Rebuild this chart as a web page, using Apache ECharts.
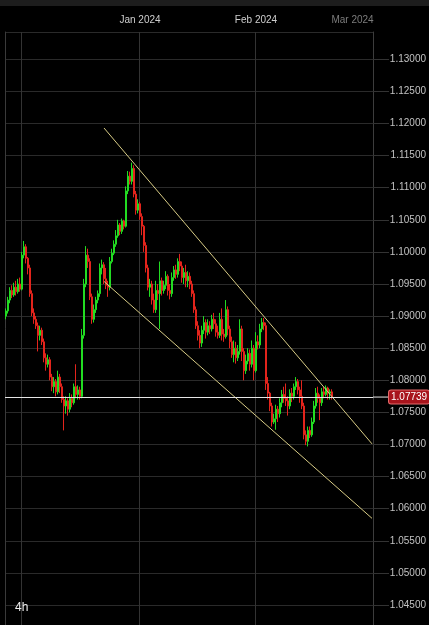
<!DOCTYPE html>
<html><head><meta charset="utf-8">
<script src="https://cdn.jsdelivr.net/npm/echarts@6/dist/echarts.min.js"></script>
<style>html,body{margin:0;padding:0;background:#000;}#c{width:429px;height:625px;}</style>
</head><body><div id="c"></div>
<script>
// EUR/USD 4h candles, open / close / low / high
const opens = [
1.0900,1.0908,1.0925,1.0940,1.0933,1.0945,1.0938,1.0950,1.0942,1.0995,
1.1008,1.0990,1.0975,1.0935,1.0905,1.0895,1.0885,1.0870,1.0878,1.0860,
1.0835,1.0825,1.0832,1.0805,1.0790,1.0798,1.0782,1.0805,1.0790,1.0770,
1.0760,1.0768,1.0755,1.0772,1.0765,1.0790,1.0778,1.0785,1.0775,1.0870,
1.0950,1.0995,1.0985,1.0930,1.0895,1.0910,1.0925,1.0935,1.0975,1.0980,
1.0958,1.0948,1.0945,1.0985,1.0998,1.1012,1.1025,1.1042,1.1032,1.1048,
1.1040,1.1095,1.1118,1.1110,1.1130,1.1090,1.1065,1.1075,1.1055,1.1040,
1.1010,1.0975,1.0945,1.0950,1.0925,1.0910,1.0940,1.0935,1.0955,1.0940,
1.0948,1.0962,1.0940,1.0935,1.0960,1.0972,1.0965,1.0985,1.0978,1.0960,
1.0968,1.0955,1.0962,1.0950,1.0935,1.0910,1.0885,1.0870,1.0858,1.0878,
1.0890,1.0875,1.0885,1.0880,1.0895,1.0888,1.0875,1.0870,1.0895,1.0872,
1.0868,1.0910,1.0880,1.0860,1.0840,1.0850,1.0835,1.0845,1.0880,1.0845,
1.0815,1.0830,1.0842,1.0825,1.0850,1.0815,1.0860,1.0855,1.0880,1.0890,
1.0885,1.0795,1.0780,1.0760,1.0735,1.0740,1.0755,1.0748,1.0765,1.0778,
1.0772,1.0768,1.0760,1.0780,1.0775,1.0790,1.0798,1.0785,1.0775,1.0760,
1.0715,1.0705,1.0722,1.0715,1.0735,1.0760,1.0780,1.0772,1.0765,1.0782,
1.0778,1.0788,1.0780,1.0782
];
const closes = [
1.0908,1.0925,1.0940,1.0933,1.0945,1.0938,1.0950,1.0942,1.0995,1.1008,
1.0990,1.0975,1.0935,1.0905,1.0895,1.0885,1.0870,1.0878,1.0860,1.0835,
1.0825,1.0832,1.0805,1.0790,1.0798,1.0782,1.0805,1.0790,1.0770,1.0760,
1.0768,1.0755,1.0772,1.0765,1.0790,1.0778,1.0785,1.0775,1.0870,1.0950,
1.0995,1.0985,1.0930,1.0895,1.0910,1.0925,1.0935,1.0975,1.0980,1.0958,
1.0948,1.0945,1.0985,1.0998,1.1012,1.1025,1.1042,1.1032,1.1048,1.1040,
1.1095,1.1118,1.1110,1.1130,1.1090,1.1065,1.1075,1.1055,1.1040,1.1010,
1.0975,1.0945,1.0950,1.0925,1.0910,1.0940,1.0935,1.0955,1.0940,1.0948,
1.0962,1.0940,1.0935,1.0960,1.0972,1.0965,1.0985,1.0978,1.0960,1.0968,
1.0955,1.0962,1.0950,1.0935,1.0910,1.0885,1.0870,1.0858,1.0878,1.0890,
1.0875,1.0885,1.0880,1.0895,1.0888,1.0875,1.0870,1.0895,1.0872,1.0868,
1.0910,1.0880,1.0860,1.0840,1.0850,1.0835,1.0845,1.0880,1.0845,1.0815,
1.0830,1.0842,1.0825,1.0850,1.0815,1.0860,1.0855,1.0880,1.0890,1.0885,
1.0795,1.0780,1.0760,1.0735,1.0740,1.0755,1.0748,1.0765,1.0778,1.0772,
1.0768,1.0760,1.0780,1.0775,1.0790,1.0798,1.0785,1.0775,1.0760,1.0715,
1.0705,1.0722,1.0715,1.0735,1.0760,1.0780,1.0772,1.0765,1.0782,1.0778,
1.0788,1.0780,1.0782,1.07739
];
const lows = [
1.0895,1.0904,1.0920,1.0928,1.0930,1.0932,1.0935,1.0938,1.0940,1.0990,
1.0982,1.0965,1.0930,1.0900,1.0888,1.0880,1.0845,1.0862,1.0855,1.0828,
1.0815,1.0820,1.0800,1.0783,1.0780,1.0775,1.0778,1.0780,1.0765,1.0722,
1.0748,1.0745,1.0750,1.0758,1.0762,1.0772,1.0770,1.0770,1.0772,1.0865,
1.0945,1.0975,1.0925,1.0888,1.0890,1.0905,1.0920,1.0930,1.0965,1.0950,
1.0942,1.0930,1.0940,1.0982,1.0995,1.1008,1.1022,1.1026,1.1028,1.1035,
1.1038,1.1090,1.1105,1.1105,1.1085,1.1058,1.1060,1.1050,1.1026,1.1000,
1.0968,1.0940,1.0930,1.0918,1.0905,1.0905,1.0925,1.0880,1.0932,1.0935,
1.0942,1.0932,1.0926,1.0930,1.0955,1.0958,1.0960,1.0970,1.0952,1.0950,
1.0945,1.0945,1.0942,1.0930,1.0905,1.0880,1.0862,1.0850,1.0852,1.0872,
1.0865,1.0870,1.0872,1.0876,1.0880,1.0868,1.0865,1.0866,1.0862,1.0860,
1.0865,1.0870,1.0850,1.0835,1.0828,1.0826,1.0830,1.0840,1.0830,1.0800,
1.0810,1.0825,1.0815,1.0820,1.0800,1.0812,1.0848,1.0850,1.0875,1.0878,
1.0785,1.0770,1.0752,1.0728,1.0732,1.0723,1.0735,1.0742,1.0758,1.0765,
1.0760,1.0745,1.0755,1.0766,1.0770,1.0785,1.0778,1.0765,1.0755,1.0708,
1.0699,1.0697,1.0710,1.0712,1.0732,1.0756,1.0765,1.0738,1.0760,1.0772,
1.0775,1.0770,1.0770,1.0770
];
const highs = [
1.0912,1.0930,1.0945,1.0948,1.0952,1.0955,1.0958,1.0960,1.1000,1.1017,
1.1012,1.0992,1.0980,1.0940,1.0912,1.0900,1.0890,1.0885,1.0882,1.0865,
1.0842,1.0840,1.0836,1.0810,1.0805,1.0802,1.0815,1.0810,1.0795,1.0775,
1.0775,1.0772,1.0780,1.0778,1.0795,1.0825,1.0792,1.0790,1.0880,1.0958,
1.1009,1.1005,1.0990,1.0935,1.0918,1.0930,1.0940,1.0982,1.0988,1.0984,
1.0975,1.0955,1.0992,1.1005,1.1018,1.1034,1.1050,1.1045,1.1052,1.1050,
1.1102,1.1126,1.1125,1.1139,1.1135,1.1095,1.1082,1.1078,1.1060,1.1042,
1.1015,1.0980,1.0958,1.0955,1.0935,1.0955,1.0950,1.0985,1.0960,1.0955,
1.0970,1.0965,1.0950,1.0968,1.0978,1.0980,1.0990,1.0997,1.0985,1.0975,
1.0980,1.0970,1.0968,1.0955,1.0940,1.0915,1.0892,1.0878,1.0885,1.0900,
1.0895,1.0895,1.0892,1.0902,1.0905,1.0895,1.0885,1.0905,1.0912,1.0880,
1.0925,1.0915,1.0885,1.0868,1.0862,1.0860,1.0855,1.0895,1.0885,1.0850,
1.0840,1.0850,1.0848,1.0862,1.0855,1.0875,1.0870,1.0888,1.0897,1.0897,
1.0890,1.0805,1.0782,1.0765,1.0748,1.0762,1.0760,1.0772,1.0785,1.0790,
1.0795,1.0775,1.0786,1.0788,1.0795,1.0805,1.0802,1.0790,1.0800,1.0765,
1.0722,1.0728,1.0728,1.0742,1.0768,1.0788,1.0790,1.0778,1.0788,1.0790,
1.0792,1.0790,1.0786,1.0786
];
const totalSlots = 184;                       // candle slots on the time axis (incl. future space)
const monthLabels = ['', 'Jan 2024', 'Feb 2024', 'Mar 2024'];
const monthSlots = [8, 67, 125, 184];         // slot where each month starts
const lastPrice = 1.07739;
const upperChannel = [[49, 1.1193], [183, 1.0701]];
const lowerChannel = [[49, 1.0954], [183, 1.0585]];
const yMin = 1.04, yMax = 1.134253, yStep = 0.005;

const categories = [];
for (let i = 0; i < totalSlots; i++) categories.push(String(i));
const candles = opens.map((o, i) => [o, closes[i], lows[i], highs[i]]);

function monthIndexAt(i) {
  for (let j = 0; j < monthSlots.length; j++) {
    const s = Math.min(monthSlots[j], totalSlots - 1);
    if (s === i) return j;
  }
  return -1;
}

const chart = echarts.init(document.getElementById('c'), null, {renderer: 'canvas'});
const FONT = '"Liberation Sans", Arial, sans-serif';
chart.setOption({
  backgroundColor: '#000',
  animation: false,
  textStyle: {fontFamily: FONT},
  title: {text: '4h', left: 10, bottom: 6,
    textStyle: {color: '#eeeeee', fontSize: 12, fontWeight: 'normal', fontFamily: FONT}},
  graphic: [{type: 'rect', left: 0, top: 0, shape: {width: 429, height: 6},
    style: {fill: '#1d1d1d'}, silent: true}],
  grid: {left: 5, width: 368, top: 32, height: 605.1, containLabel: false, outerBoundsMode: 'none'},
  xAxis: {
    type: 'category', position: 'top', data: categories, boundaryGap: true,
    axisLine: {show: false}, axisTick: {show: false},
    axisLabel: {
      interval: (i) => { const j = monthIndexAt(i); return j >= 0 && monthLabels[j] !== ''; },
      formatter: (v, i) => {
        const j = monthIndexAt(Number(v));
        if (j < 0) return '';
        return monthSlots[j] >= totalSlots ? '{f|' + monthLabels[j] + '}' : monthLabels[j];
      },
      color: '#cfcfcf', fontSize: 10, margin: 7, fontFamily: FONT,
      rich: {f: {color: '#7c7c7c', fontSize: 10, padding: [0, 39, 0, 0], fontFamily: FONT}}
    },
    splitLine: {show: true,
      interval: (i) => monthSlots.indexOf(i) >= 0,
      lineStyle: {color: '#333333', width: 1}}
  },
  yAxis: [{
    type: 'value', position: 'right', min: yMin, max: yMax, interval: yStep,
    axisLine: {show: true, lineStyle: {color: '#3c3c3c'}},
    axisTick: {show: true, length: 16, lineStyle: {color: '#333333'}},
    axisLabel: {formatter: (v) => v.toFixed(5), color: '#c2c2c2', fontSize: 10,
      align: 'right', margin: 53, showMaxLabel: false, showMinLabel: false, fontFamily: FONT},
    splitLine: {show: true, lineStyle: {color: '#2a2a2a', width: 1}}
  }, {
    type: 'value', position: 'left', min: yMin, max: yMax,
    axisLine: {show: true, lineStyle: {color: '#3a3a3a'}},
    axisTick: {show: false}, axisLabel: {show: false}, splitLine: {show: false}
  }],
  series: [{
    type: 'candlestick', data: candles, barWidth: '70%',
    itemStyle: {color: '#22dc22', color0: '#e3241c', borderColor: '#22dc22', borderColor0: '#e3241c', borderWidth: 1},
    markLine: {
      symbol: 'none', silent: true, animation: false, precision: 5,
      lineStyle: {color: '#e6e6e6', width: 1, type: 'solid'},
      label: {position: 'end', distance: 0,
        formatter: '{l|}{b|' + lastPrice.toFixed(5) + '}',
        rich: {
          l: {width: 16, height: 1, backgroundColor: '#e6e6e6', verticalAlign: 'middle'},
          b: {color: '#fff', fontSize: 10, fontFamily: FONT, backgroundColor: '#a8141c',
              borderColor: '#e36a6a', borderWidth: 1, borderRadius: 2, padding: [2, 2, 1, 2], verticalAlign: 'middle'}
        }},
      data: [{yAxis: lastPrice}]
    }
  }, {
    type: 'line', data: upperChannel, symbol: 'none', silent: true,
    lineStyle: {color: '#d8cc86', width: 1}
  }, {
    type: 'line', data: lowerChannel, symbol: 'none', silent: true,
    lineStyle: {color: '#d8cc86', width: 1}
  }]
});
</script></body></html>
